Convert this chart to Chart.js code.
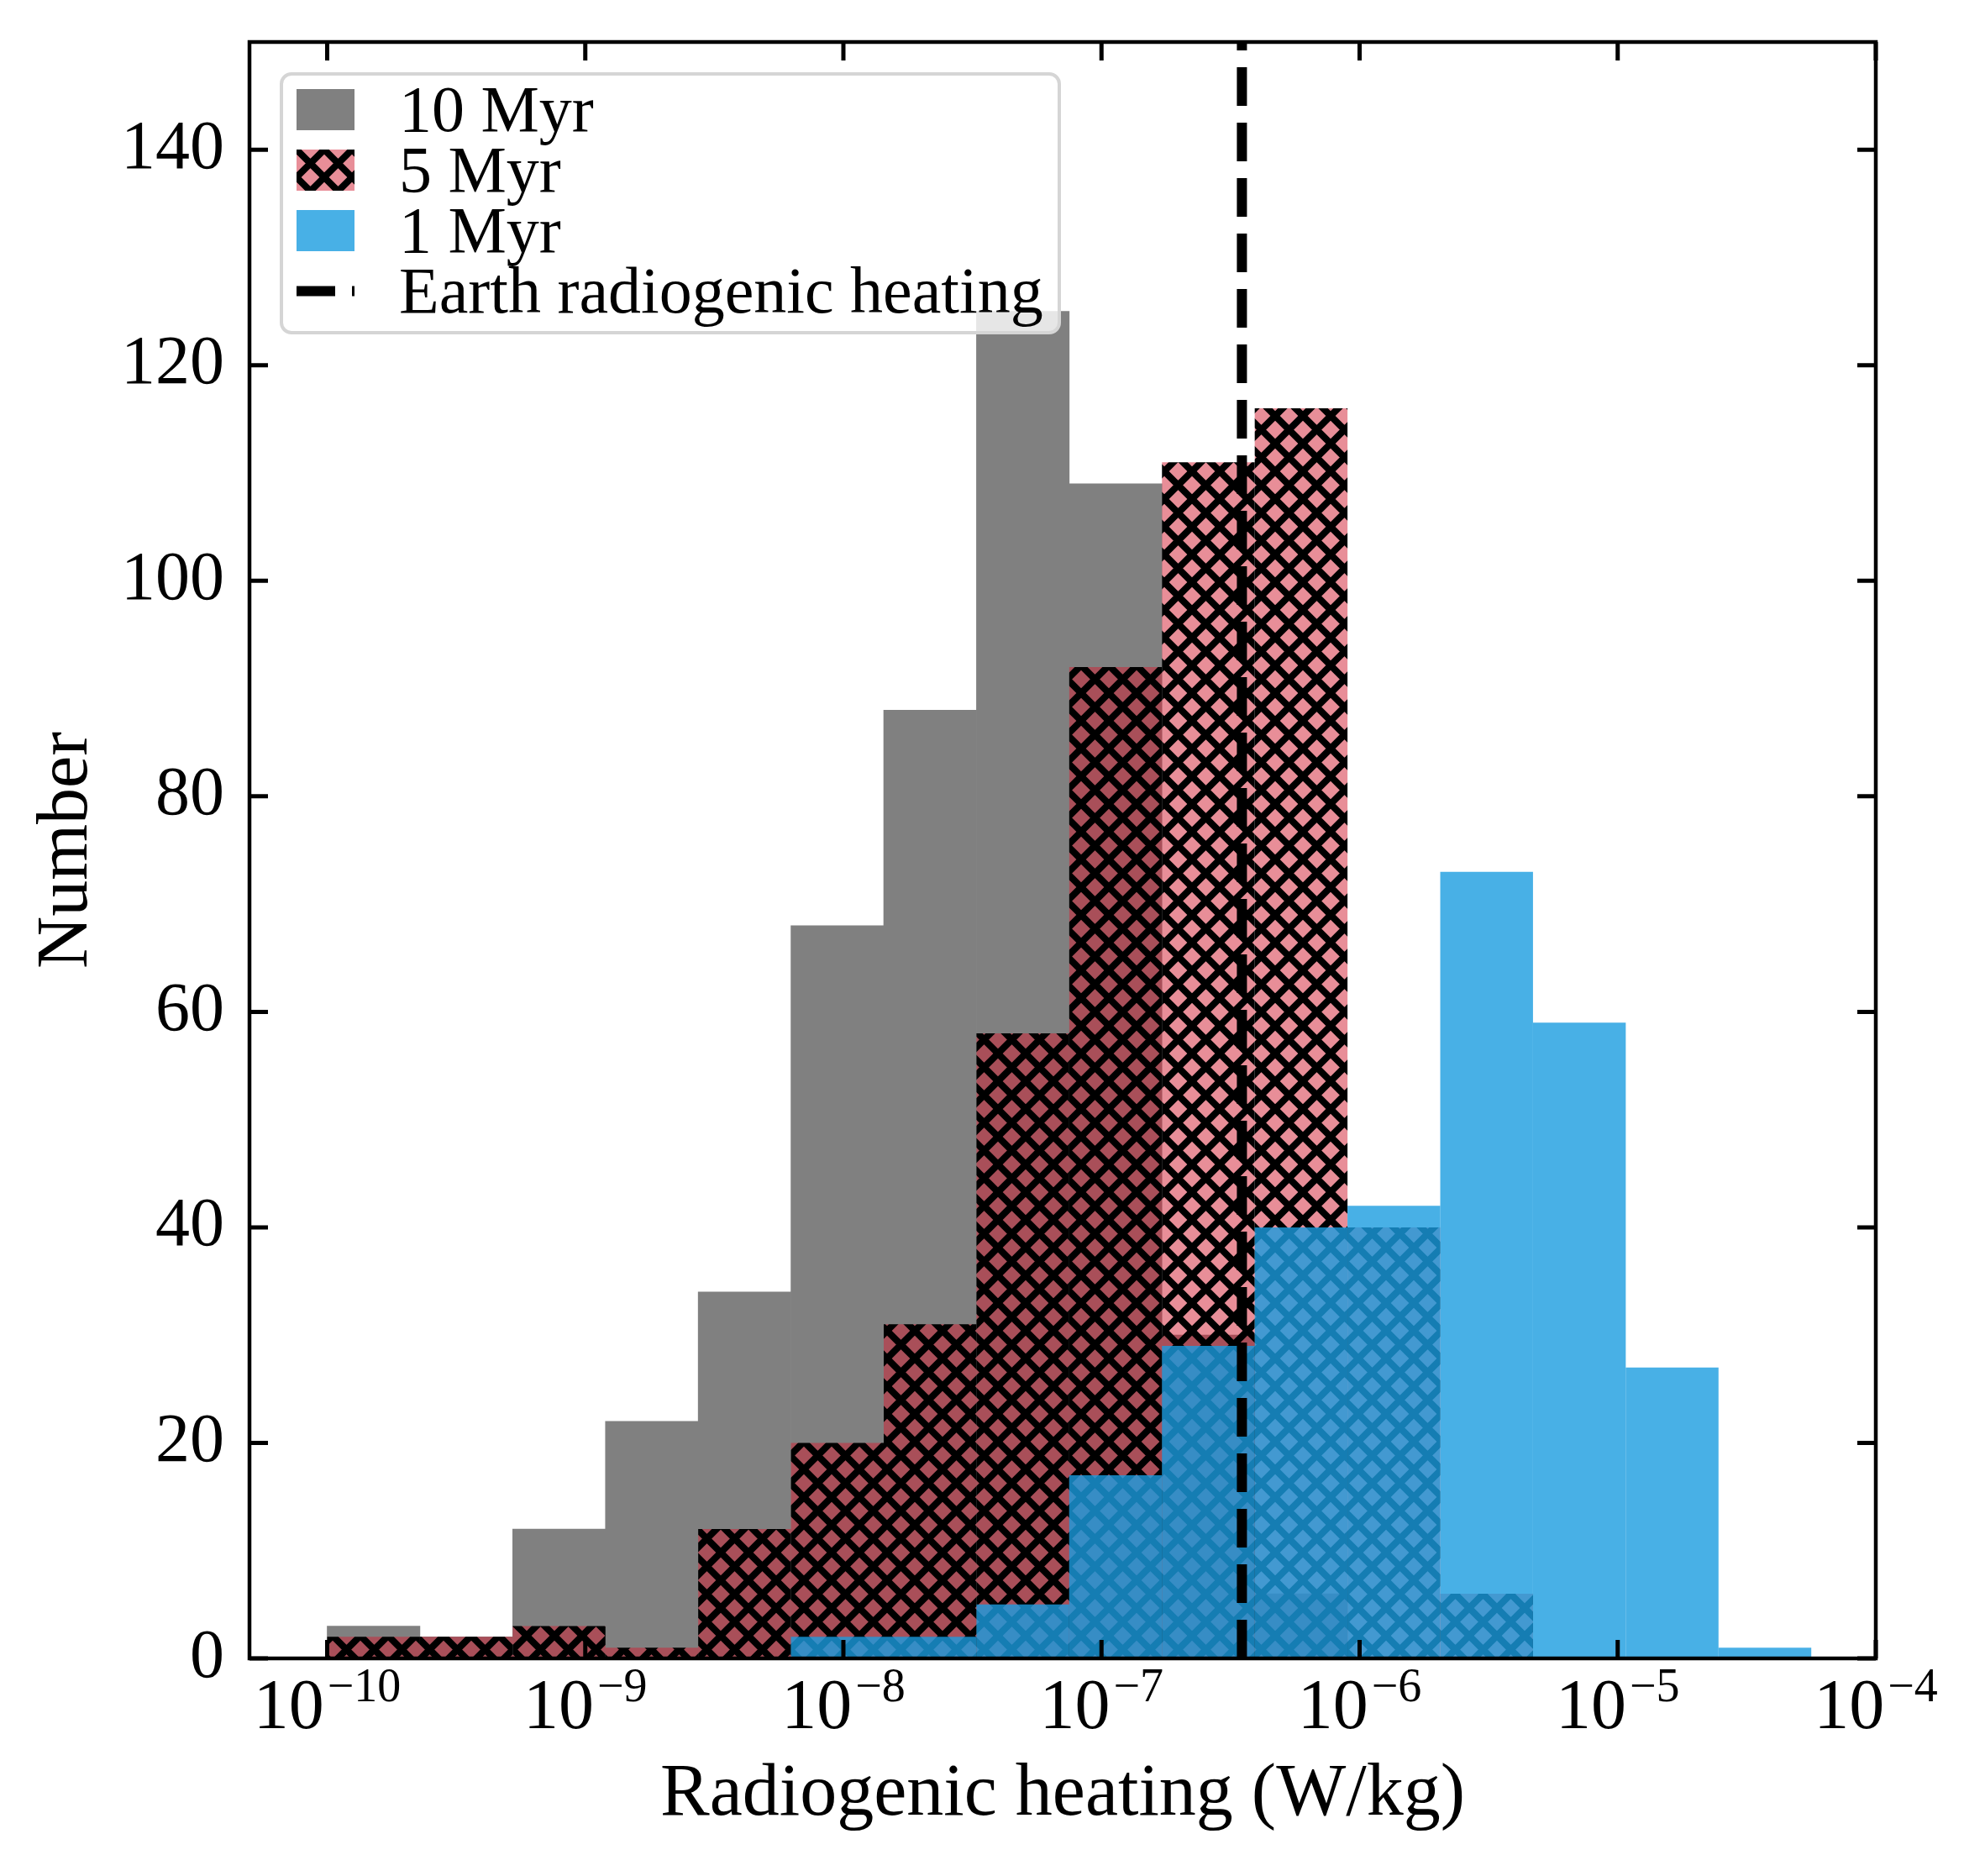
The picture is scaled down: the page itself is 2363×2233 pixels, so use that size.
<!DOCTYPE html>
<html lang="en">
<head>
  <meta charset="UTF-8" />
  <title>Radiogenic heating histogram</title>
  <script src="https://cdn.jsdelivr.net/npm/chart.js"></script>
  <style>
    body {
      margin: 0;
      background: #fff;
      font-family: "Liberation Serif", serif;
    }

    .wrap {
      position: relative;
      width: 2363px;
      height: 2233px;
    }

    .legend {
      position: absolute;
      left: 333px;
      top: 86px;
      width: 930px;
      height: 312px;
      box-sizing: border-box;
      border: 4px solid #d5d5d5;
      border-radius: 14px;
      background: rgba(255, 255, 255, 0.8);
      padding: 4px 0 0 16px;
    }

    .legend-row {
      display: flex;
      align-items: center;
      height: 72px;
    }

    .legend-row canvas {
      width: 69px;
      height: 49px;
      margin-right: 53px;
    }

    .legend-row span {
      font-size: 78px;
      line-height: 1;
      color: #000;
      white-space: nowrap;
    }
  </style>
</head>
<body>
  <div class="wrap">
    <canvas id="chart"></canvas>
    <div class="legend" id="legend"></div>
  </div>

  <script>
    // bin edges (W/kg), shared by all three histograms
    const binEdges = [
      1.0000e-10, 2.2875e-10, 5.2330e-10, 1.1971e-9, 2.7384e-9, 6.2643e-9,
      1.4330e-8, 3.2781e-8, 7.4989e-8, 1.7154e-7, 3.9242e-7, 8.9769e-7,
      2.0535e-6, 4.6976e-6, 1.0746e-5, 2.4582e-5, 5.6234e-5
    ];
    const counts10Myr = [3, 2, 12, 22, 34, 68, 88, 125, 109, 30, 6, 0, 0, 0, 0, 0];
    const counts5Myr  = [2, 2, 3, 1, 12, 20, 31, 58, 92, 111, 116, 40, 6, 0, 0, 0];
    const counts1Myr  = [0, 0, 0, 0, 0, 2, 2, 5, 17, 29, 40, 42, 73, 59, 27, 1];
    const earthHeating = 3.5e-7;

    const xTickExps = [-10, -9, -8, -7, -6, -5, -4];
    const yTicks = [0, 20, 40, 60, 80, 100, 120, 140];
    const xMin = 5e-11, xMax = 1e-4;
    const yMin = 0, yMax = 150;

    const FONT = '"Liberation Serif", "Times New Roman", serif';
    Chart.defaults.font.family = FONT;
    Chart.defaults.color = '#000';

    const binCenters = binEdges.slice(0, -1).map((e, i) => Math.sqrt(e * binEdges[i + 1]));
    const toPoints = counts => counts.map((c, i) => ({ x: binCenters[i], y: c }));

    // crosshatch tile for the 5 Myr histogram
    function hatchTile() {
      const t = document.createElement('canvas');
      t.width = 33; t.height = 33;
      const c = t.getContext('2d');
      c.fillStyle = 'rgba(210, 29, 49, 0.5)';
      c.fillRect(0, 0, 33, 33);
      c.strokeStyle = '#000';
      c.lineWidth = 8;
      c.beginPath();
      c.moveTo(-8, -8); c.lineTo(41, 41);
      c.moveTo(-8, 41); c.lineTo(41, -8);
      c.stroke();
      return t;
    }
    const tile = hatchTile();
    const hatch = document.createElement('canvas').getContext('2d').createPattern(tile, 'repeat');

    const ticksAndFrame = {
      id: 'ticksAndFrame',
      afterDraw(chart) {
        const { ctx, chartArea: { left, right, top, bottom }, scales: { x, y } } = chart;
        const len = 22;
        ctx.save();
        ctx.strokeStyle = '#000';
        ctx.lineWidth = 5;
        ctx.beginPath();
        xTickExps.forEach(e => {
          const px = x.getPixelForValue(Math.pow(10, e));
          ctx.moveTo(px, bottom); ctx.lineTo(px, bottom - len);
          ctx.moveTo(px, top); ctx.lineTo(px, top + len);
        });
        yTicks.forEach(v => {
          const py = y.getPixelForValue(v);
          ctx.moveTo(left, py); ctx.lineTo(left + len, py);
          ctx.moveTo(right, py); ctx.lineTo(right - len, py);
        });
        ctx.stroke();
        ctx.lineWidth = 4.5;
        ctx.strokeRect(left, top, right - left, bottom - top);

        // x tick labels as 10 with a raised exponent
        ctx.fillStyle = '#000';
        ctx.textBaseline = 'alphabetic';
        ctx.textAlign = 'left';
        const baseFont = '84px ' + FONT, supFont = '56px ' + FONT;
        xTickExps.forEach(e => {
          const px = x.getPixelForValue(Math.pow(10, e));
          const sup = '\u2212' + Math.abs(e);
          ctx.font = baseFont;
          const wb = ctx.measureText('10').width;
          ctx.font = supFont;
          const ws = ctx.measureText(sup).width;
          const x0 = px - (wb + 4 + ws) / 2;
          ctx.font = baseFont;
          ctx.fillText('10', x0, bottom + 83);
          ctx.font = supFont;
          ctx.fillText(sup, x0 + wb + 4, bottom + 51);
        });
        ctx.restore();
      }
    };

    const chart = new Chart(document.getElementById('chart'), {
      type: 'bar',
      data: {
        datasets: [
          {
            label: '10 Myr',
            data: toPoints(counts10Myr),
            backgroundColor: '#808080',
            inflateAmount: 'auto',
            order: 3
          },
          {
            label: '5 Myr',
            data: toPoints(counts5Myr),
            backgroundColor: hatch,
            order: 2
          },
          {
            label: '1 Myr',
            data: toPoints(counts1Myr),
            backgroundColor: 'rgba(26, 156, 224, 0.8)',
            order: 1
          },
          {
            type: 'line',
            label: 'Earth radiogenic heating',
            data: [{ x: earthHeating, y: yMin }, { x: earthHeating, y: yMax }],
            borderColor: '#000',
            borderWidth: 12,
            borderDash: [46, 20],
            borderCapStyle: 'butt',
            pointRadius: 0,
            fill: false,
            order: 0
          }
        ]
      },
      options: {
        responsive: true,
        maintainAspectRatio: false,
        animation: false,
        events: [],
        layout: { padding: { top: 50, right: 130, left: 0, bottom: 0 } },
        datasets: {
          bar: {
            grouped: false,
            barPercentage: 1,
            categoryPercentage: 1,
            borderWidth: 0,
            inflateAmount: 0
          }
        },
        plugins: {
          legend: { display: false },
          tooltip: { enabled: false }
        },
        scales: {
          x: {
            type: 'logarithmic',
            min: xMin,
            max: xMax,
            offset: false,
            grid: { display: false, drawTicks: false, offset: false },
            border: { display: false },
            ticks: { display: false },
            afterBuildTicks: s => { s.ticks = xTickExps.map(e => ({ value: Math.pow(10, e) })); },
            afterFit: s => { s.height = 259; s.paddingLeft = 0; s.paddingRight = 0; },
            title: {
              display: true,
              text: 'Radiogenic heating (W/kg)',
              font: { size: 88, lineHeight: 1 },
              padding: { top: 0, bottom: 52 }
            }
          },
          y: {
            min: yMin,
            max: yMax,
            grid: { display: false, drawTicks: false },
            border: { display: false },
            ticks: { font: { size: 82 }, padding: 30 },
            afterBuildTicks: s => { s.ticks = yTicks.map(v => ({ value: v })); },
            afterFit: s => { s.width = 297; s.paddingTop = 0; s.paddingBottom = 0; },
            title: {
              display: true,
              text: 'Number',
              font: { size: 86, lineHeight: 1 },
              padding: { top: 37, bottom: 0 }
            }
          }
        }
      },
      plugins: [ticksAndFrame]
    });

    // legend box drawn as HTML over the plot
    const legendEl = document.getElementById('legend');
    chart.data.datasets.forEach(ds => {
      const row = document.createElement('div');
      row.className = 'legend-row';
      const sw = document.createElement('canvas');
      sw.width = 69; sw.height = 49;
      const c = sw.getContext('2d');
      if (ds.type === 'line') {
        c.strokeStyle = ds.borderColor;
        c.lineWidth = ds.borderWidth;
        c.setLineDash(ds.borderDash);
        c.beginPath();
        c.moveTo(0, 24.5); c.lineTo(69, 24.5);
        c.stroke();
      } else {
        c.fillStyle = ds.backgroundColor === hatch ? c.createPattern(tile, 'repeat') : ds.backgroundColor;
        c.fillRect(0, 0, 69, 49);
      }
      const txt = document.createElement('span');
      txt.textContent = ds.label;
      row.appendChild(sw);
      row.appendChild(txt);
      legendEl.appendChild(row);
    });
  </script>
</body>
</html>
